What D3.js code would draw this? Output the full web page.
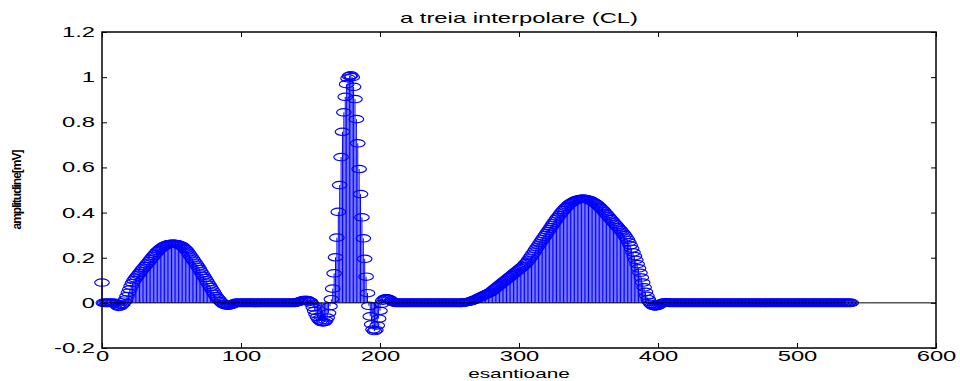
<!DOCTYPE html>
<html>
<head>
<meta charset="utf-8">
<script src="https://cdn.jsdelivr.net/npm/d3@7"></script>
<style>
  body { margin: 0; background: #fff; }
  svg { display: block; }
  text { font-family: "Liberation Sans", Arial, Helvetica, sans-serif; fill: #000; }
</style>
</head>
<body>
<svg id="chart" width="960" height="381"></svg>
<script>
// ECG beat after the third interpolation, one value per sample (index = sample number)
const amplitude = [
  0.09, 0, 0, 0, 0, 0, 0, 0, 0, 0,
  -0.005, -0.012, -0.018, -0.016, -0.01, -0.005, 0.005, 0.015, 0.03, 0.045,
  0.06, 0.075, 0.088, 0.1, 0.108, 0.116, 0.124, 0.132, 0.14, 0.148,
  0.155, 0.163, 0.17, 0.177, 0.185, 0.193, 0.2, 0.208, 0.215, 0.222,
  0.229, 0.235, 0.24, 0.245, 0.249, 0.253, 0.256, 0.258, 0.26, 0.261,
  0.262, 0.262, 0.262, 0.261, 0.26, 0.258, 0.256, 0.253, 0.249, 0.244,
  0.238, 0.231, 0.223, 0.214, 0.205, 0.196, 0.187, 0.178, 0.169, 0.16,
  0.15, 0.14, 0.13, 0.12, 0.11, 0.1, 0.09, 0.08, 0.07, 0.06,
  0.05, 0.04, 0.03, 0.022, 0.015, 0.008, 0.002, -0.004, -0.008, -0.011,
  -0.012, -0.012, -0.011, -0.009, -0.006, -0.003, 0, 0, 0, 0,
  0, 0, 0, 0, 0, 0, 0, 0, 0, 0,
  0, 0, 0, 0, 0, 0, 0, 0, 0, 0,
  0, 0, 0, 0, 0, 0, 0, 0, 0, 0,
  0, 0, 0, 0, 0, 0, 0, 0, 0, 0,
  0.002, 0.004, 0.006, 0.008, 0.01, 0.012, 0.013, 0.013, 0.012, 0.008,
  0.005, -0.005, -0.02, -0.035, -0.05, -0.063, -0.073, -0.08, -0.085, -0.087,
  -0.085, -0.078, -0.065, -0.045, -0.015, 0.016, 0.063, 0.131, 0.202, 0.289,
  0.403, 0.522, 0.646, 0.758, 0.844, 0.913, 0.969, 0.995, 1.005, 1.008,
  1.0, 0.957, 0.903, 0.814, 0.707, 0.593, 0.482, 0.379, 0.286, 0.195,
  0.116, 0.043, -0.013, -0.06, -0.095, -0.118, -0.125, -0.12, -0.1, -0.07,
  -0.035, -0.005, 0.01, 0.017, 0.02, 0.02, 0.018, 0.015, 0.01, 0.006,
  0.003, 0, 0, 0, 0, 0, 0, 0, 0, 0,
  0, 0, 0, 0, 0, 0, 0, 0, 0, 0,
  0, 0, 0, 0, 0, 0, 0, 0, 0, 0,
  0, 0, 0, 0, 0, 0, 0, 0, 0, 0,
  0, 0, 0, 0, 0, 0, 0, 0, 0, 0,
  0.001, 0.002, 0.003, 0.004, 0.005, 0.007, 0.009, 0.011, 0.013, 0.016,
  0.019, 0.022, 0.025, 0.028, 0.031, 0.034, 0.037, 0.04, 0.042, 0.045,
  0.049, 0.054, 0.059, 0.064, 0.069, 0.074, 0.079, 0.084, 0.089, 0.094,
  0.099, 0.103, 0.108, 0.113, 0.118, 0.123, 0.128, 0.133, 0.138, 0.143,
  0.148, 0.153, 0.158, 0.163, 0.169, 0.176, 0.183, 0.191, 0.2, 0.209,
  0.218, 0.227, 0.237, 0.246, 0.255, 0.264, 0.273, 0.282, 0.291, 0.3,
  0.309, 0.318, 0.327, 0.336, 0.345, 0.354, 0.363, 0.372, 0.38, 0.388,
  0.396, 0.404, 0.411, 0.418, 0.424, 0.43, 0.436, 0.441, 0.445, 0.449,
  0.452, 0.455, 0.457, 0.459, 0.46, 0.461, 0.461, 0.461, 0.46, 0.459,
  0.457, 0.455, 0.452, 0.449, 0.445, 0.441, 0.436, 0.431, 0.425, 0.419,
  0.413, 0.406, 0.399, 0.392, 0.385, 0.378, 0.371, 0.364, 0.357, 0.35,
  0.343, 0.336, 0.329, 0.322, 0.315, 0.307, 0.299, 0.29, 0.28, 0.268,
  0.255, 0.24, 0.224, 0.207, 0.19, 0.172, 0.153, 0.133, 0.112, 0.09,
  0.069, 0.049, 0.031, 0.016, 0.004, -0.005, -0.011, -0.015, -0.016, -0.015,
  -0.012, -0.008, -0.004, -0.001, 0.001, 0.002, 0.002, 0.001, 0, 0,
  0, 0, 0, 0, 0, 0, 0, 0, 0, 0,
  0, 0, 0, 0, 0, 0, 0, 0, 0, 0,
  0, 0, 0, 0, 0, 0, 0, 0, 0, 0,
  0, 0, 0, 0, 0, 0, 0, 0, 0, 0,
  0, 0, 0, 0, 0, 0, 0, 0, 0, 0,
  0, 0, 0, 0, 0, 0, 0, 0, 0, 0,
  0, 0, 0, 0, 0, 0, 0, 0, 0, 0,
  0, 0, 0, 0, 0, 0, 0, 0, 0, 0,
  0, 0, 0, 0, 0, 0, 0, 0, 0, 0,
  0, 0, 0, 0, 0, 0, 0, 0, 0, 0,
  0, 0, 0, 0, 0, 0, 0, 0, 0, 0,
  0, 0, 0, 0, 0, 0, 0, 0, 0, 0,
  0, 0, 0, 0, 0, 0, 0, 0, 0, 0
];

const xTicks = [0, 100, 200, 300, 400, 500, 600];
const yTicks = [-0.2, 0, 0.2, 0.4, 0.6, 0.8, 1, 1.2];
const xTickLabels = ["0", "100", "200", "300", "400", "500", "600"];
const yTickLabels = ["-0.2", "0", "0.2", "0.4", "0.6", "0.8", "1", "1.2"];

const titleText = "a treia interpolare (CL)";
const xLabelText = "esantioane";
const yLabelText = "amplitudine[mV]";

const samples = amplitude.map((v, i) => ({ n: i, v: v }));

const svg = d3.select("#chart");
const plot = { left: 102, right: 936, top: 32, bottom: 348 };
const stretch = 1.7;     // the figure is drawn wide, so glyphs are widened too
const blue = "#0000ff";

const x = d3.scaleLinear().domain([0, 600]).range([plot.left, plot.right]);
const y = d3.scaleLinear().domain([-0.2, 1.2]).range([plot.bottom, plot.top]);

// stems
svg.append("g")
  .selectAll("line")
  .data(samples)
  .join("line")
  .attr("x1", d => x(d.n)).attr("x2", d => x(d.n))
  .attr("y1", y(0)).attr("y2", d => y(d.v))
  .attr("stroke", blue)
  .attr("stroke-width", 1);

// open markers (circles, widened with the figure)
svg.append("g")
  .selectAll("ellipse")
  .data(samples)
  .join("ellipse")
  .attr("cx", d => x(d.n))
  .attr("cy", d => y(d.v))
  .attr("rx", 7.3)
  .attr("ry", 3.7)
  .attr("fill", "none")
  .attr("stroke", blue)
  .attr("stroke-width", 1.15);

// stem baseline
svg.append("line")
  .attr("x1", plot.left).attr("x2", plot.right)
  .attr("y1", y(0)).attr("y2", y(0))
  .attr("stroke", "#000").attr("stroke-width", 1);

// axes: inward ticks on all four sides
const tickLen = 5;
function styleAxis(g) {
  g.select(".domain").remove();
  g.selectAll(".tick line").attr("stroke", "#000").attr("stroke-width", 1);
  g.selectAll("text").style("font-size", "14px").attr("fill", "#000");
}

const gx = svg.append("g")
  .attr("transform", `translate(0,${plot.bottom})`)
  .call(d3.axisBottom(x).tickValues(xTicks)
    .tickFormat((d, i) => xTickLabels[i]).tickSize(-tickLen).tickSizeOuter(0))
  .call(styleAxis);
gx.selectAll("text").attr("transform", `scale(${stretch},1)`).attr("x", 0).attr("y", 3);

const gy = svg.append("g")
  .attr("transform", `translate(${plot.left},0)`)
  .call(d3.axisLeft(y).tickValues(yTicks)
    .tickFormat((d, i) => yTickLabels[i]).tickSize(-tickLen).tickSizeOuter(0))
  .call(styleAxis);
gy.selectAll("text").attr("transform", `scale(${stretch},1)`).attr("x", -7 / stretch);

svg.append("g")
  .attr("transform", `translate(0,${plot.top})`)
  .call(d3.axisTop(x).tickValues(xTicks).tickFormat("").tickSize(-tickLen).tickSizeOuter(0))
  .call(styleAxis);

svg.append("g")
  .attr("transform", `translate(${plot.right},0)`)
  .call(d3.axisRight(y).tickValues(yTicks).tickFormat("").tickSize(-tickLen).tickSizeOuter(0))
  .call(styleAxis);

// axes box
svg.append("rect")
  .attr("x", plot.left).attr("y", plot.top)
  .attr("width", plot.right - plot.left).attr("height", plot.bottom - plot.top)
  .attr("fill", "none").attr("stroke", "#000").attr("stroke-width", 1.5);

// title and labels
svg.append("text")
  .attr("transform", `translate(${(plot.left + plot.right) / 2},23) scale(${stretch},1)`)
  .attr("text-anchor", "middle")
  .style("font-size", "14px")
  .text(titleText);

svg.append("text")
  .attr("transform", `translate(${(plot.left + plot.right) / 2},378) scale(1.6,1)`)
  .attr("text-anchor", "middle")
  .style("font-size", "13px")
  .text(xLabelText);

svg.append("text")
  .attr("transform", `translate(21,${(plot.top + plot.bottom) / 2}) rotate(-90)`)
  .attr("text-anchor", "middle")
  .style("font-size", "12px")
  .style("font-weight", "bold")
  .style("letter-spacing", "-1px")
  .text(yLabelText);
</script>
</body>
</html>
